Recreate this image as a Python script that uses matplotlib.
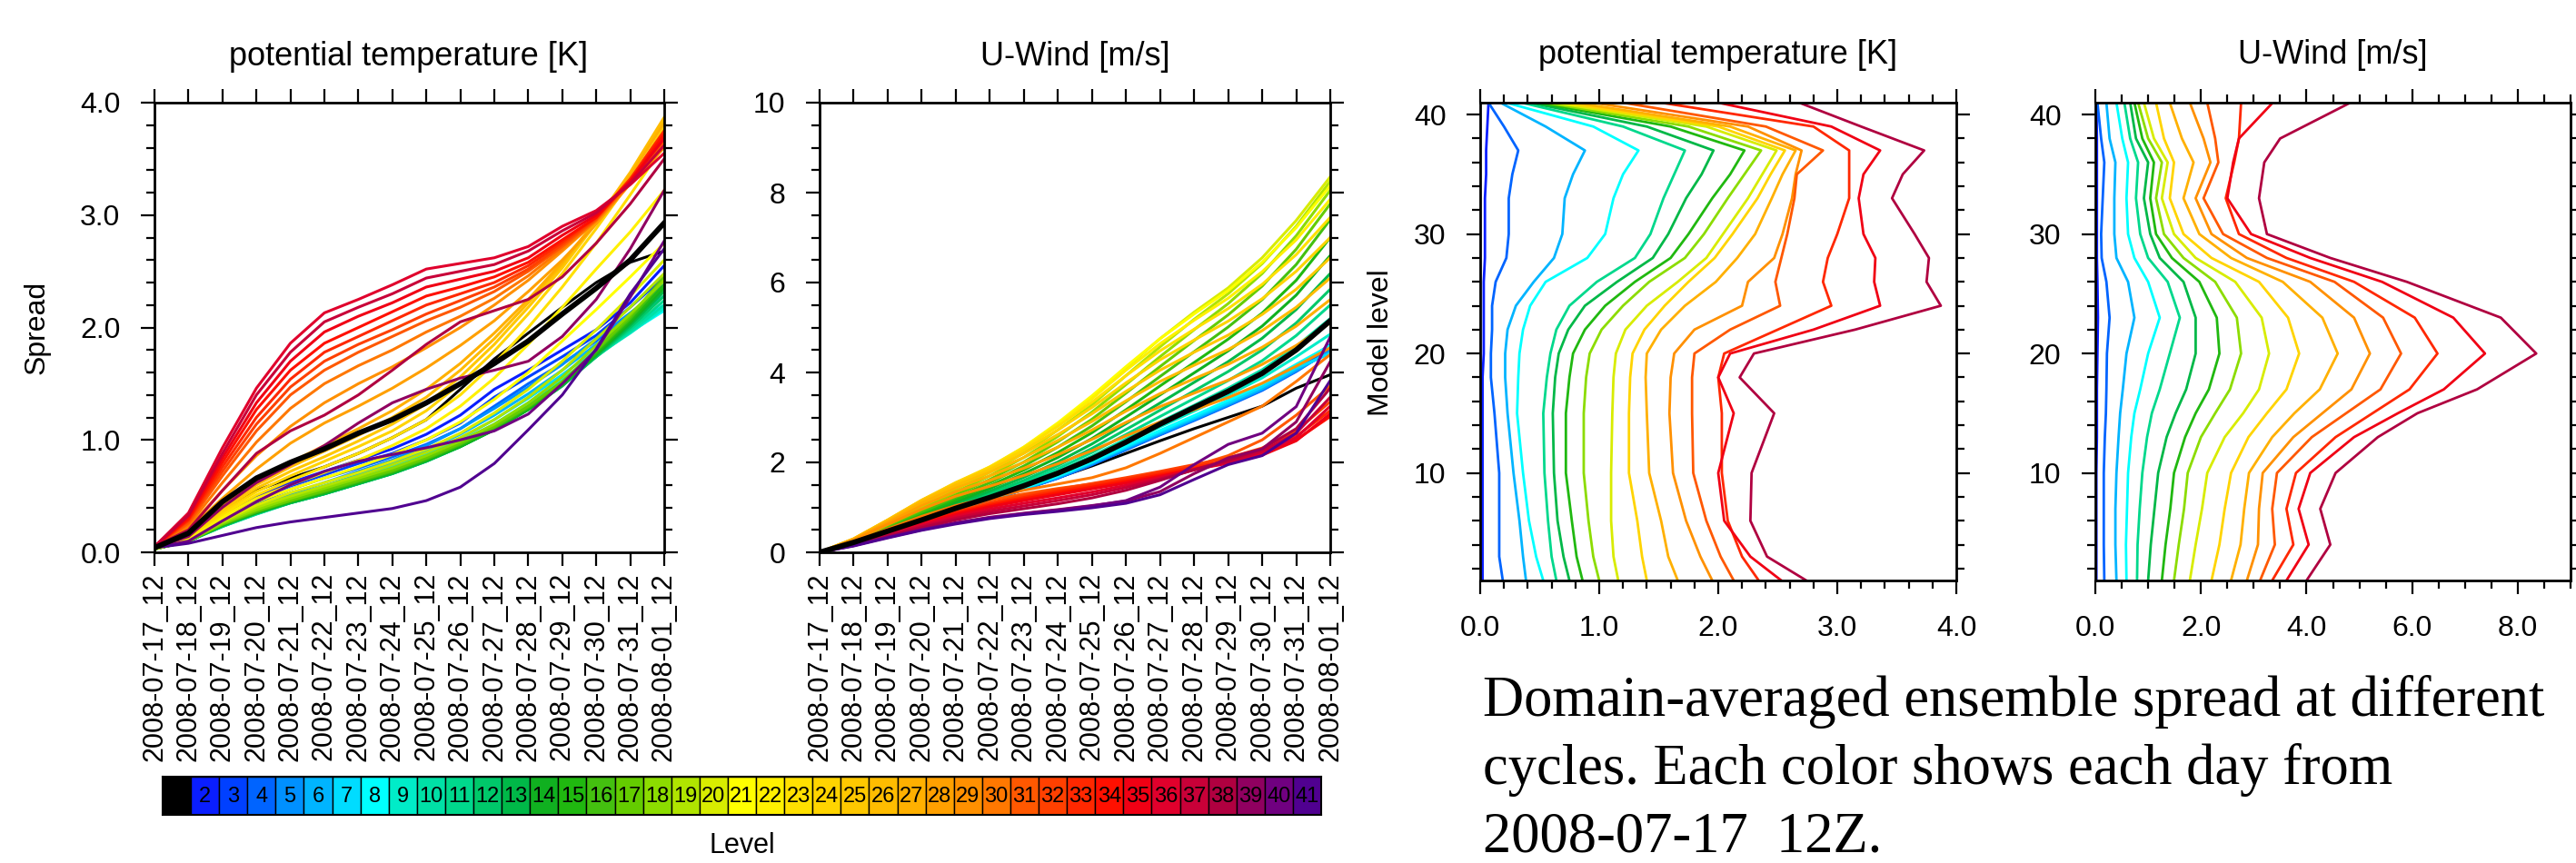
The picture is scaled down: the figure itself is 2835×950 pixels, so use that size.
import matplotlib
matplotlib.use("Agg")
import matplotlib.pyplot as plt
from matplotlib.ticker import MultipleLocator, FixedLocator, FormatStrFormatter
from matplotlib import font_manager
import numpy as np

# ---------------- data ----------------
dates = ["2008-07-17_12", "2008-07-18_12", "2008-07-19_12", "2008-07-20_12",
         "2008-07-21_12", "2008-07-22_12", "2008-07-23_12", "2008-07-24_12",
         "2008-07-25_12", "2008-07-26_12", "2008-07-27_12", "2008-07-28_12",
         "2008-07-29_12", "2008-07-30_12", "2008-07-31_12", "2008-08-01_12"]
levels = list(range(1, 42))

# potential temperature spread time series, one row per model level (1..41)
theta_spread = [
    [0.04, 0.15, 0.38, 0.55, 0.66, 0.76, 0.88, 1.02, 1.18, 1.45, 1.72, 1.95, 2.18, 2.40, 2.58, 2.68],
    [0.04, 0.14, 0.33, 0.50, 0.62, 0.72, 0.82, 0.92, 1.05, 1.22, 1.45, 1.62, 1.80, 1.98, 2.22, 2.55],
    [0.04, 0.13, 0.31, 0.47, 0.59, 0.69, 0.79, 0.88, 1.00, 1.15, 1.38, 1.56, 1.74, 1.93, 2.18, 2.45],
    [0.04, 0.12, 0.29, 0.44, 0.56, 0.66, 0.75, 0.85, 0.96, 1.10, 1.30, 1.50, 1.68, 1.88, 2.12, 2.38],
    [0.03, 0.11, 0.27, 0.41, 0.52, 0.62, 0.72, 0.82, 0.95, 1.10, 1.28, 1.47, 1.67, 1.90, 2.13, 2.36],
    [0.03, 0.11, 0.26, 0.39, 0.50, 0.59, 0.69, 0.79, 0.91, 1.05, 1.22, 1.41, 1.62, 1.85, 2.06, 2.28],
    [0.03, 0.11, 0.25, 0.37, 0.48, 0.57, 0.66, 0.76, 0.88, 1.01, 1.18, 1.37, 1.58, 1.80, 2.00, 2.20],
    [0.03, 0.10, 0.24, 0.36, 0.46, 0.55, 0.64, 0.74, 0.85, 0.98, 1.14, 1.33, 1.54, 1.76, 1.96, 2.15],
    [0.03, 0.10, 0.24, 0.35, 0.45, 0.53, 0.62, 0.72, 0.83, 0.96, 1.12, 1.31, 1.52, 1.75, 1.95, 2.17],
    [0.03, 0.10, 0.23, 0.34, 0.44, 0.52, 0.61, 0.71, 0.82, 0.95, 1.11, 1.29, 1.50, 1.74, 1.96, 2.20],
    [0.03, 0.10, 0.23, 0.34, 0.44, 0.52, 0.61, 0.70, 0.81, 0.94, 1.10, 1.28, 1.49, 1.74, 1.98, 2.24],
    [0.03, 0.10, 0.23, 0.35, 0.44, 0.52, 0.61, 0.70, 0.81, 0.94, 1.09, 1.27, 1.48, 1.74, 2.00, 2.28],
    [0.03, 0.10, 0.24, 0.35, 0.44, 0.52, 0.61, 0.70, 0.81, 0.94, 1.09, 1.27, 1.48, 1.75, 2.02, 2.32],
    [0.03, 0.10, 0.24, 0.35, 0.45, 0.53, 0.62, 0.71, 0.82, 0.94, 1.09, 1.27, 1.49, 1.76, 2.04, 2.35],
    [0.03, 0.10, 0.24, 0.36, 0.45, 0.53, 0.62, 0.71, 0.82, 0.95, 1.10, 1.28, 1.50, 1.77, 2.06, 2.38],
    [0.03, 0.10, 0.25, 0.36, 0.46, 0.54, 0.63, 0.72, 0.83, 0.96, 1.11, 1.29, 1.51, 1.79, 2.08, 2.42],
    [0.03, 0.10, 0.25, 0.37, 0.46, 0.55, 0.64, 0.73, 0.84, 0.97, 1.12, 1.30, 1.52, 1.80, 2.10, 2.45],
    [0.03, 0.10, 0.26, 0.38, 0.48, 0.57, 0.66, 0.75, 0.86, 0.99, 1.14, 1.33, 1.56, 1.84, 2.12, 2.42],
    [0.03, 0.11, 0.27, 0.40, 0.50, 0.59, 0.68, 0.78, 0.89, 1.02, 1.18, 1.38, 1.62, 1.90, 2.18, 2.48],
    [0.03, 0.11, 0.28, 0.42, 0.53, 0.62, 0.71, 0.81, 0.92, 1.06, 1.24, 1.45, 1.70, 1.98, 2.28, 2.60],
    [0.04, 0.12, 0.30, 0.45, 0.56, 0.66, 0.76, 0.87, 1.00, 1.16, 1.36, 1.60, 1.88, 2.16, 2.45, 2.75],
    [0.04, 0.13, 0.32, 0.48, 0.60, 0.71, 0.82, 0.95, 1.10, 1.30, 1.55, 1.85, 2.18, 2.52, 2.85, 3.22],
    [0.04, 0.14, 0.34, 0.51, 0.64, 0.76, 0.88, 1.02, 1.18, 1.40, 1.68, 2.00, 2.36, 2.75, 3.18, 3.62],
    [0.04, 0.15, 0.36, 0.54, 0.68, 0.81, 0.94, 1.08, 1.26, 1.50, 1.79, 2.12, 2.48, 2.88, 3.30, 3.78],
    [0.04, 0.16, 0.38, 0.57, 0.72, 0.85, 0.99, 1.14, 1.32, 1.56, 1.85, 2.18, 2.53, 2.93, 3.36, 3.85],
    [0.04, 0.17, 0.40, 0.60, 0.76, 0.90, 1.04, 1.20, 1.38, 1.62, 1.90, 2.22, 2.56, 2.95, 3.38, 3.87],
    [0.04, 0.18, 0.42, 0.63, 0.80, 0.95, 1.10, 1.26, 1.45, 1.68, 1.95, 2.25, 2.58, 2.95, 3.35, 3.82],
    [0.04, 0.20, 0.48, 0.74, 0.97, 1.15, 1.30, 1.46, 1.64, 1.84, 2.06, 2.32, 2.60, 2.92, 3.28, 3.66],
    [0.05, 0.22, 0.55, 0.86, 1.12, 1.33, 1.50, 1.65, 1.82, 2.00, 2.20, 2.42, 2.68, 2.95, 3.28, 3.60],
    [0.05, 0.24, 0.62, 0.98, 1.28, 1.50, 1.66, 1.80, 1.96, 2.10, 2.26, 2.46, 2.70, 2.95, 3.28, 3.62],
    [0.05, 0.26, 0.68, 1.08, 1.40, 1.62, 1.78, 1.92, 2.06, 2.18, 2.32, 2.50, 2.72, 2.96, 3.30, 3.65],
    [0.05, 0.28, 0.72, 1.14, 1.47, 1.70, 1.85, 1.98, 2.12, 2.24, 2.36, 2.52, 2.74, 2.97, 3.32, 3.70],
    [0.05, 0.29, 0.76, 1.20, 1.54, 1.78, 1.92, 2.06, 2.20, 2.30, 2.40, 2.55, 2.76, 2.98, 3.32, 3.75],
    [0.05, 0.30, 0.80, 1.27, 1.62, 1.86, 2.00, 2.14, 2.28, 2.36, 2.45, 2.58, 2.78, 2.98, 3.30, 3.72],
    [0.05, 0.32, 0.84, 1.33, 1.70, 1.96, 2.10, 2.22, 2.36, 2.43, 2.50, 2.62, 2.82, 3.00, 3.30, 3.68],
    [0.05, 0.35, 0.93, 1.46, 1.86, 2.13, 2.25, 2.38, 2.52, 2.57, 2.62, 2.72, 2.90, 3.04, 3.27, 3.55],
    [0.05, 0.33, 0.88, 1.40, 1.78, 2.05, 2.18, 2.30, 2.44, 2.50, 2.56, 2.68, 2.86, 3.02, 3.28, 3.62],
    [0.05, 0.20, 0.55, 0.88, 1.08, 1.22, 1.40, 1.62, 1.85, 2.05, 2.15, 2.25, 2.45, 2.75, 3.10, 3.50],
    [0.04, 0.14, 0.40, 0.62, 0.78, 0.95, 1.15, 1.33, 1.45, 1.55, 1.62, 1.70, 1.92, 2.25, 2.70, 3.22],
    [0.04, 0.10, 0.28, 0.45, 0.60, 0.72, 0.81, 0.87, 0.93, 1.00, 1.08, 1.23, 1.50, 1.80, 2.27, 2.77],
    [0.04, 0.08, 0.15, 0.22, 0.27, 0.31, 0.35, 0.39, 0.46, 0.58, 0.79, 1.09, 1.40, 1.81, 2.30, 2.70],
]
theta_mean = [0.04, 0.17, 0.45, 0.66, 0.80, 0.92, 1.06, 1.18, 1.33, 1.50, 1.68, 1.88, 2.12, 2.35, 2.60, 2.93]

# U-wind spread time series, one row per model level (1..41)
uwind_spread = [
    [0, 0.22, 0.46, 0.70, 0.95, 1.18, 1.42, 1.66, 1.92, 2.20, 2.48, 2.75, 3.00, 3.25, 3.65, 3.95],
    [0, 0.21, 0.45, 0.69, 0.93, 1.16, 1.40, 1.66, 1.96, 2.30, 2.63, 2.96, 3.30, 3.66, 4.10, 4.62],
    [0, 0.21, 0.45, 0.69, 0.93, 1.16, 1.40, 1.65, 1.95, 2.29, 2.62, 2.95, 3.28, 3.63, 4.06, 4.55],
    [0, 0.21, 0.45, 0.69, 0.93, 1.16, 1.40, 1.65, 1.95, 2.28, 2.61, 2.93, 3.26, 3.60, 4.02, 4.50],
    [0, 0.21, 0.45, 0.69, 0.93, 1.16, 1.40, 1.66, 1.96, 2.30, 2.63, 2.95, 3.28, 3.62, 4.04, 4.48],
    [0, 0.21, 0.45, 0.69, 0.93, 1.16, 1.41, 1.67, 1.98, 2.32, 2.65, 2.97, 3.30, 3.64, 4.06, 4.45],
    [0, 0.21, 0.46, 0.70, 0.94, 1.17, 1.42, 1.69, 2.00, 2.34, 2.68, 3.00, 3.33, 3.68, 4.10, 4.42],
    [0, 0.21, 0.46, 0.70, 0.94, 1.18, 1.43, 1.70, 2.02, 2.37, 2.71, 3.04, 3.38, 3.74, 4.18, 4.60],
    [0, 0.22, 0.47, 0.71, 0.96, 1.20, 1.46, 1.74, 2.07, 2.43, 2.79, 3.14, 3.50, 3.88, 4.35, 4.85],
    [0, 0.22, 0.48, 0.73, 0.98, 1.23, 1.50, 1.80, 2.14, 2.52, 2.90, 3.27, 3.65, 4.06, 4.58, 5.20],
    [0, 0.23, 0.49, 0.75, 1.01, 1.27, 1.55, 1.86, 2.22, 2.62, 3.02, 3.42, 3.82, 4.26, 4.82, 5.50],
    [0, 0.23, 0.50, 0.77, 1.04, 1.31, 1.60, 1.93, 2.31, 2.73, 3.16, 3.59, 4.02, 4.50, 5.10, 5.85],
    [0, 0.24, 0.52, 0.80, 1.08, 1.36, 1.67, 2.01, 2.41, 2.86, 3.32, 3.78, 4.24, 4.76, 5.40, 6.20],
    [0, 0.24, 0.53, 0.82, 1.12, 1.42, 1.75, 2.11, 2.53, 3.01, 3.50, 3.99, 4.48, 5.03, 5.72, 6.60],
    [0, 0.25, 0.55, 0.86, 1.17, 1.48, 1.83, 2.22, 2.66, 3.17, 3.70, 4.22, 4.74, 5.32, 6.05, 7.00],
    [0, 0.26, 0.58, 0.90, 1.22, 1.55, 1.92, 2.34, 2.81, 3.35, 3.91, 4.46, 5.01, 5.62, 6.40, 7.40],
    [0, 0.26, 0.60, 0.94, 1.28, 1.62, 2.01, 2.46, 2.96, 3.54, 4.13, 4.71, 5.28, 5.92, 6.74, 7.75],
    [0, 0.27, 0.62, 0.98, 1.34, 1.70, 2.11, 2.58, 3.12, 3.73, 4.35, 4.95, 5.53, 6.20, 7.04, 8.05],
    [0, 0.27, 0.64, 1.02, 1.40, 1.78, 2.21, 2.72, 3.28, 3.93, 4.57, 5.18, 5.75, 6.42, 7.25, 8.25],
    [0, 0.28, 0.66, 1.06, 1.45, 1.84, 2.30, 2.83, 3.42, 4.10, 4.75, 5.34, 5.88, 6.55, 7.38, 8.35],
    [0, 0.28, 0.68, 1.10, 1.50, 1.88, 2.34, 2.88, 3.48, 4.13, 4.75, 5.30, 5.82, 6.45, 7.22, 8.15],
    [0, 0.29, 0.70, 1.13, 1.53, 1.90, 2.34, 2.85, 3.42, 4.05, 4.64, 5.16, 5.65, 6.24, 6.95, 7.85],
    [0, 0.29, 0.71, 1.15, 1.55, 1.90, 2.32, 2.80, 3.34, 3.93, 4.48, 4.96, 5.42, 5.96, 6.62, 7.45],
    [0, 0.30, 0.72, 1.16, 1.55, 1.88, 2.27, 2.72, 3.22, 3.77, 4.28, 4.72, 5.14, 5.64, 6.25, 7.00],
    [0, 0.30, 0.72, 1.16, 1.53, 1.84, 2.20, 2.62, 3.08, 3.58, 4.05, 4.45, 4.83, 5.29, 5.85, 6.55],
    [0, 0.30, 0.71, 1.14, 1.49, 1.78, 2.11, 2.49, 2.91, 3.37, 3.80, 4.16, 4.51, 4.93, 5.45, 6.10],
    [0, 0.29, 0.69, 1.10, 1.43, 1.70, 2.00, 2.34, 2.72, 3.14, 3.53, 3.86, 4.18, 4.56, 5.03, 5.62],
    [0, 0.28, 0.66, 1.04, 1.35, 1.60, 1.87, 2.17, 2.51, 2.89, 3.24, 3.54, 3.83, 4.18, 4.60, 5.10],
    [0, 0.27, 0.62, 0.96, 1.25, 1.47, 1.71, 1.97, 2.26, 2.59, 2.90, 3.17, 3.44, 3.76, 4.14, 4.55],
    [0, 0.24, 0.52, 0.80, 1.04, 1.22, 1.38, 1.52, 1.66, 1.88, 2.20, 2.55, 2.90, 3.25, 3.80, 4.40],
    [0, 0.22, 0.48, 0.74, 0.97, 1.16, 1.30, 1.42, 1.52, 1.62, 1.75, 1.92, 2.15, 2.50, 3.05, 3.70],
    [0, 0.20, 0.45, 0.69, 0.91, 1.10, 1.26, 1.40, 1.53, 1.66, 1.80, 1.95, 2.10, 2.32, 2.70, 3.35],
    [0, 0.20, 0.44, 0.68, 0.89, 1.07, 1.22, 1.36, 1.49, 1.62, 1.76, 1.90, 2.04, 2.24, 2.58, 3.15],
    [0, 0.19, 0.43, 0.66, 0.87, 1.04, 1.19, 1.32, 1.45, 1.58, 1.72, 1.86, 2.00, 2.18, 2.50, 3.02],
    [0, 0.19, 0.42, 0.64, 0.84, 1.01, 1.15, 1.28, 1.41, 1.54, 1.69, 1.84, 1.98, 2.16, 2.48, 3.08],
    [0, 0.18, 0.40, 0.61, 0.80, 0.96, 1.09, 1.21, 1.34, 1.49, 1.66, 1.84, 2.00, 2.20, 2.55, 3.25],
    [0, 0.17, 0.38, 0.58, 0.76, 0.91, 1.03, 1.15, 1.28, 1.44, 1.63, 1.83, 2.02, 2.25, 2.65, 3.45],
    [0, 0.16, 0.36, 0.55, 0.72, 0.86, 0.97, 1.08, 1.21, 1.38, 1.60, 1.84, 2.05, 2.30, 2.75, 3.65],
    [0, 0.15, 0.34, 0.51, 0.66, 0.78, 0.87, 0.95, 1.04, 1.14, 1.35, 1.75, 2.10, 2.30, 2.90, 4.24],
    [0, 0.15, 0.33, 0.50, 0.65, 0.77, 0.86, 0.94, 1.03, 1.15, 1.45, 1.95, 2.40, 2.65, 3.24, 4.79],
    [0, 0.14, 0.32, 0.49, 0.63, 0.75, 0.84, 0.91, 0.99, 1.09, 1.28, 1.62, 1.95, 2.15, 2.65, 3.82],
]
uwind_mean = [0, 0.22, 0.47, 0.72, 0.98, 1.22, 1.48, 1.76, 2.08, 2.45, 2.85, 3.22, 3.58, 3.98, 4.50, 5.15]

# vertical profiles of spread, one row per day (16 days)
theta_profile_levels = [1, 3, 6, 10, 15, 18, 20, 22, 24, 26, 28, 30, 33, 35, 37, 39, 41]
theta_profiles = [
    [0.02, 0.02, 0.02, 0.02, 0.02, 0.02, 0.03, 0.03, 0.03, 0.03, 0.04, 0.04, 0.04, 0.05, 0.05, 0.06, 0.07],
    [0.19, 0.16, 0.16, 0.16, 0.12, 0.09, 0.09, 0.10, 0.10, 0.13, 0.22, 0.24, 0.24, 0.27, 0.32, 0.20, 0.07],
    [0.385, 0.36, 0.33, 0.28, 0.23, 0.21, 0.21, 0.23, 0.30, 0.45, 0.62, 0.69, 0.71, 0.78, 0.88, 0.55, 0.17],
    [0.53, 0.47, 0.41, 0.36, 0.31, 0.32, 0.33, 0.36, 0.42, 0.55, 0.90, 1.05, 1.12, 1.20, 1.33, 0.95, 0.22],
    [0.64, 0.60, 0.57, 0.54, 0.53, 0.56, 0.59, 0.64, 0.75, 0.98, 1.30, 1.43, 1.54, 1.63, 1.72, 1.20, 0.35],
    [0.75, 0.70, 0.65, 0.62, 0.61, 0.63, 0.66, 0.74, 0.88, 1.15, 1.45, 1.58, 1.73, 1.86, 1.96, 1.40, 0.42],
    [0.86, 0.81, 0.77, 0.72, 0.72, 0.75, 0.78, 0.88, 1.05, 1.30, 1.60, 1.75, 1.95, 2.10, 2.22, 1.60, 0.48],
    [1.00, 0.95, 0.91, 0.87, 0.87, 0.89, 0.92, 1.02, 1.20, 1.42, 1.72, 1.88, 2.08, 2.22, 2.36, 1.75, 0.55],
    [1.16, 1.12, 1.10, 1.10, 1.11, 1.12, 1.14, 1.22, 1.40, 1.66, 1.90, 2.04, 2.25, 2.37, 2.49, 1.90, 0.62],
    [1.40, 1.36, 1.32, 1.25, 1.25, 1.26, 1.28, 1.38, 1.55, 1.75, 1.97, 2.12, 2.33, 2.44, 2.56, 2.00, 0.70],
    [1.66, 1.58, 1.52, 1.42, 1.40, 1.39, 1.40, 1.52, 1.72, 1.98, 2.16, 2.31, 2.45, 2.54, 2.65, 2.10, 0.80],
    [1.95, 1.85, 1.73, 1.62, 1.59, 1.60, 1.63, 1.80, 2.20, 2.25, 2.47, 2.54, 2.62, 2.65, 2.70, 2.25, 0.95],
    [2.13, 2.02, 1.90, 1.79, 1.78, 1.78, 1.80, 2.10, 2.52, 2.48, 2.53, 2.58, 2.64, 2.66, 2.88, 2.40, 1.20],
    [2.34, 2.20, 2.08, 2.03, 2.03, 2.00, 2.05, 2.50, 2.95, 2.88, 2.92, 3.00, 3.10, 3.10, 3.10, 2.80, 1.52],
    [2.53, 2.27, 2.05, 2.00, 2.13, 2.00, 2.10, 2.80, 3.36, 3.31, 3.32, 3.22, 3.18, 3.22, 3.36, 2.95, 2.00],
    [2.74, 2.41, 2.27, 2.28, 2.47, 2.18, 2.30, 3.15, 3.87, 3.75, 3.77, 3.65, 3.46, 3.55, 3.73, 3.20, 2.68],
]
uwind_profile_levels = [1, 4, 7, 10, 13, 15, 17, 20, 23, 26, 28, 30, 33, 36, 38, 41]
uwind_profiles = [
    [0.02, 0.02, 0.02, 0.02, 0.03, 0.03, 0.03, 0.04, 0.05, 0.04, 0.03, 0.03, 0.03, 0.03, 0.03, 0.02],
    [0.17, 0.16, 0.16, 0.16, 0.18, 0.20, 0.21, 0.22, 0.27, 0.21, 0.12, 0.11, 0.14, 0.17, 0.11, 0.04],
    [0.40, 0.38, 0.38, 0.40, 0.44, 0.47, 0.52, 0.59, 0.74, 0.62, 0.40, 0.36, 0.36, 0.38, 0.27, 0.21],
    [0.59, 0.58, 0.60, 0.62, 0.68, 0.74, 0.85, 1.00, 1.22, 1.00, 0.74, 0.62, 0.59, 0.62, 0.51, 0.40],
    [0.79, 0.80, 0.84, 0.89, 0.98, 1.07, 1.22, 1.41, 1.60, 1.37, 1.00, 0.85, 0.77, 0.81, 0.66, 0.55],
    [1.00, 1.05, 1.12, 1.19, 1.35, 1.52, 1.72, 1.90, 1.90, 1.67, 1.22, 1.04, 0.92, 1.00, 0.77, 0.66],
    [1.26, 1.33, 1.42, 1.49, 1.70, 1.90, 2.15, 2.35, 2.30, 1.97, 1.45, 1.15, 1.04, 1.11, 0.89, 0.74],
    [1.49, 1.58, 1.68, 1.75, 2.00, 2.27, 2.55, 2.76, 2.68, 2.27, 1.67, 1.30, 1.15, 1.26, 1.00, 0.81],
    [1.79, 1.90, 2.02, 2.12, 2.45, 2.80, 3.10, 3.29, 3.15, 2.65, 1.90, 1.49, 1.26, 1.37, 1.11, 0.92],
    [2.20, 2.35, 2.45, 2.57, 2.90, 3.25, 3.62, 3.86, 3.65, 3.10, 2.20, 1.67, 1.41, 1.49, 1.30, 1.15],
    [2.57, 2.75, 2.82, 2.91, 3.35, 3.77, 4.25, 4.59, 4.30, 3.55, 2.57, 1.97, 1.67, 1.86, 1.64, 1.41],
    [2.87, 3.08, 3.10, 3.17, 3.75, 4.30, 4.85, 5.20, 4.90, 4.07, 2.87, 2.20, 1.90, 2.18, 2.05, 1.79],
    [3.12, 3.40, 3.35, 3.44, 4.10, 4.75, 5.40, 5.79, 5.45, 4.53, 3.25, 2.42, 2.05, 2.33, 2.27, 2.12],
    [3.35, 3.75, 3.62, 3.80, 4.55, 5.25, 5.95, 6.48, 6.05, 4.90, 3.62, 2.72, 2.47, 2.63, 2.72, 2.76],
    [3.62, 4.04, 3.85, 4.07, 4.90, 5.73, 6.60, 7.38, 6.78, 5.43, 4.07, 2.95, 2.50, 2.61, 2.72, 3.36],
    [4.00, 4.45, 4.26, 4.55, 5.35, 6.10, 7.23, 8.35, 7.68, 5.90, 4.45, 3.25, 3.10, 3.20, 3.50, 4.83],
]

# ---------------- style ----------------
level_colors = ['#000000', '#0a1eff', '#0040ff', '#0064ff', '#0090ff', '#00b4ff', '#00dcff',
                '#00ffff', '#00ecc8', '#00e0a6', '#00d88c', '#00c86a', '#00b848', '#10b020',
                '#20b810', '#44c010', '#64cc00', '#8cdc00', '#b0e400', '#d8ec00', '#ffff00',
                '#fff000', '#ffe000', '#ffd400', '#ffc800', '#ffbc00', '#ffb000', '#ffa000',
                '#ff9000', '#ff7800', '#ff5800', '#ff4000', '#ff2800', '#ff1000', '#f00014',
                '#e0002c', '#c80038', '#b00040', '#900060', '#700080', '#500090']
day_color_levels = [2, 4, 6, 8, 11, 13, 15, 18, 20, 24, 27, 29, 31, 33, 35, 38]

SANS = ['Liberation Sans', 'DejaVu Sans']
plt.rcParams['font.family'] = SANS
names = {f.name for f in font_manager.fontManager.ttflist}
NARROW = ['Liberation Sans Narrow'] + SANS if 'Liberation Sans Narrow' in names else SANS

W, H = 2835, 950
fig = plt.figure(figsize=(W / 100, H / 100), dpi=100)


def rect(x0, y0, x1, y1):
    return [x0 / W, 1 - y1 / H, (x1 - x0) / W, (y1 - y0) / H]


TICK_FS = 23


def style(ax):
    for s in ax.spines.values():
        s.set_linewidth(2.0)
    ax.tick_params(which='both', direction='out', top=True, right=True,
                   width=1.6, labelsize=TICK_FS)
    ax.tick_params(which='major', length=11)
    ax.tick_params(which='minor', length=6.5)
    ax.tick_params(axis='y', which='major', pad=16)


days = np.arange(len(dates))

# ---- panel 1: theta time series ----
ax1 = fig.add_axes(rect(170, 113, 731, 608))
for lev, vals in zip(levels, theta_spread):
    ax1.plot(days, vals, color=level_colors[lev - 1], lw=2.2, solid_joinstyle='round')
ax1.plot(days, theta_mean, color='black', lw=4.2)
ax1.set_xlim(0, 15)
ax1.set_ylim(0, 4)
ax1.yaxis.set_major_locator(MultipleLocator(1.0))
ax1.yaxis.set_minor_locator(MultipleLocator(0.2))
ax1.yaxis.set_major_formatter(FormatStrFormatter('%.1f'))
ax1.set_xticks(days)
ax1.set_xticklabels(dates, rotation=90)
style(ax1)
ax1.tick_params(axis='x', which='major', pad=5, labelsize=22)

# ---- panel 2: U-wind time series ----
ax2 = fig.add_axes(rect(902, 113, 1464, 608))
for lev, vals in zip(levels, uwind_spread):
    ax2.plot(days, vals, color=level_colors[lev - 1], lw=2.2, solid_joinstyle='round')
ax2.plot(days, uwind_mean, color='black', lw=4.2)
ax2.set_xlim(0, 15)
ax2.set_ylim(0, 10)
ax2.yaxis.set_major_locator(MultipleLocator(2))
ax2.yaxis.set_minor_locator(MultipleLocator(0.5))
ax2.set_xticks(days)
ax2.set_xticklabels(dates, rotation=90)
style(ax2)
ax2.tick_params(axis='x', which='major', pad=5, labelsize=22)

# ---- panel 3: theta profiles ----
ax3 = fig.add_axes(rect(1629, 113, 2153, 639))
for d, vals in enumerate(theta_profiles):
    ax3.plot(vals, theta_profile_levels, color=level_colors[day_color_levels[d] - 1], lw=2.0)
ax3.set_xlim(0, 4)
ax3.set_ylim(1, 41)
ax3.xaxis.set_major_locator(MultipleLocator(1.0))
ax3.xaxis.set_minor_locator(MultipleLocator(0.2))
ax3.xaxis.set_major_formatter(FormatStrFormatter('%.1f'))
ax3.yaxis.set_major_locator(FixedLocator([10, 20, 30, 40]))
ax3.yaxis.set_minor_locator(FixedLocator(list(range(2, 42, 2))))
style(ax3)
ax3.tick_params(axis='x', which='major', pad=16)

# ---- panel 4: U-wind profiles ----
ax4 = fig.add_axes(rect(2306, 113, 2829, 639))
for d, vals in enumerate(uwind_profiles):
    ax4.plot(vals, uwind_profile_levels, color=level_colors[day_color_levels[d] - 1], lw=2.0)
ax4.set_xlim(0, 9)
ax4.set_ylim(1, 41)
ax4.xaxis.set_major_locator(MultipleLocator(2.0))
ax4.xaxis.set_minor_locator(MultipleLocator(0.5))
ax4.xaxis.set_major_formatter(FormatStrFormatter('%.1f'))
ax4.yaxis.set_major_locator(FixedLocator([10, 20, 30, 40]))
ax4.yaxis.set_minor_locator(FixedLocator(list(range(2, 42, 2))))
style(ax4)
ax4.tick_params(axis='x', which='major', pad=16)

# ---- titles and axis labels ----
TITLE_FS = 26
fig.text(450 / W, 1 - 63 / H, 'potential temperature [K]', ha='center', va='center', fontsize=TITLE_FS)
fig.text(1183 / W, 1 - 63 / H, 'U-Wind [m/s]', ha='center', va='center', fontsize=TITLE_FS)
fig.text(1891 / W, 1 - 60 / H, 'potential temperature [K]', ha='center', va='center', fontsize=TITLE_FS)
fig.text(2567 / W, 1 - 60 / H, 'U-Wind [m/s]', ha='center', va='center', fontsize=TITLE_FS)
fig.text(41 / W, 1 - 360 / H, 'Spread', ha='center', va='center', rotation=90, fontsize=23)
fig.text(1520 / W, 1 - 377 / H, 'Model level', ha='center', va='center', rotation=90, fontsize=23)

# ---- colorbar of levels ----
axc = fig.add_axes(rect(179, 855, 1454, 897))
axc.bar(levels, [1] * len(levels), width=1.0, bottom=0, color=level_colors,
        edgecolor='black', linewidth=1.0)
axc.set_xlim(0.5, 41.5)
axc.set_ylim(0, 1)
axc.set_xticks([])
axc.set_yticks([])
for s in axc.spines.values():
    s.set_linewidth(1.5)
for lev in levels[1:]:
    axc.text(lev, 0.47, str(lev), ha='center', va='center', fontsize=17, family=NARROW)
fig.text(817 / W, 1 - 916 / H, 'Level', ha='center', va='top', fontsize=22)

# ---- caption ----
SERIF = ['Liberation Serif', 'DejaVu Serif']
cap = ["Domain-averaged ensemble spread at different",
       "cycles. Each color shows each day from",
       "2008-07-17  12Z."]
for i, line in enumerate(cap):
    fig.text(1632 / W, 1 - (788 + 75 * i) / H, line, ha='left', va='baseline',
             fontsize=45, family=SERIF)

fig.savefig('out.png', dpi=100)
